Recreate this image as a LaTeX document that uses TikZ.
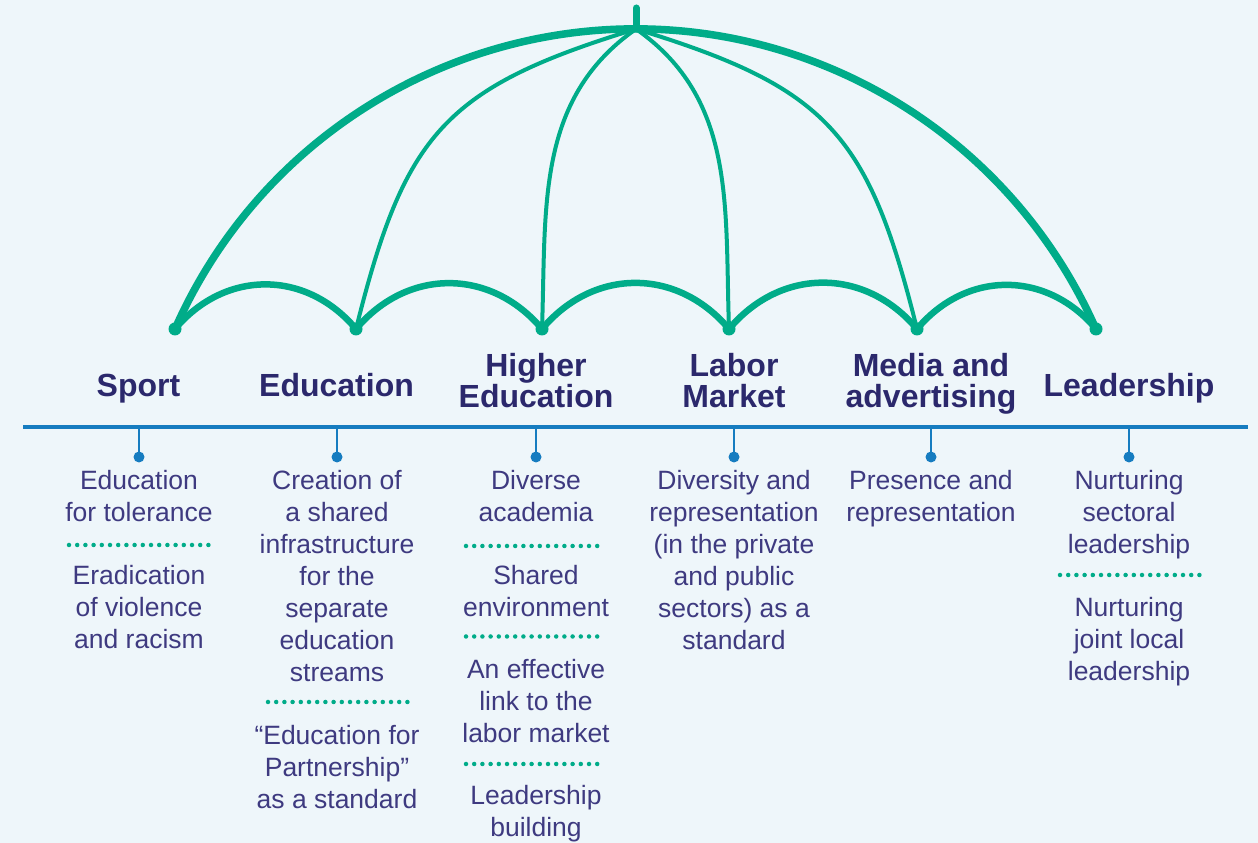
\documentclass[tikz,border=0pt]{standalone}
\usepackage{fontspec}
\setmainfont{Liberation Sans}
\definecolor{bgblue}{RGB}{238,246,250}
\definecolor{umbgreen}{RGB}{0,172,137}
\definecolor{lineblue}{RGB}{22,124,192}
\definecolor{headnavy}{RGB}{43,40,108}
\definecolor{textnavy}{RGB}{62,58,128}
\begin{document}
\begin{tikzpicture}[x=1pt, y=1pt, line cap=round, line join=round,
    heading/.style={font=\fontsize{32}{31.5}\selectfont\bfseries, text=headnavy, align=center, anchor=base, inner sep=0pt},
    item/.style={font=\fontsize{26.5}{32}\selectfont, text=textnavy, align=center, anchor=base, inner sep=0pt},
    canopy/.style={draw=umbgreen, line width=6.5pt},
    rib/.style={draw=umbgreen, line width=4pt},
    ribend/.style={circle, fill=umbgreen, minimum size=13pt, inner sep=0pt},
    stemdot/.style={circle, fill=lineblue, minimum size=11pt, inner sep=0pt},
    tickline/.style={draw=lineblue, line width=2.6pt},
    dotsep/.style={draw=umbgreen, line width=4.5pt, dash pattern=on 0pt off 8.2pt}]
    \path[fill=bgblue, use as bounding box] (0,0) rectangle (1258,843);

    % umbrella
    \coordinate (top) at (636,814);
    \coordinate (handle) at (636,835);
    \node[ribend] (r1) at (175,514) {};
    \node[ribend] (r2) at (356,514) {};
    \node[ribend] (r3) at (542,514) {};
    \node[ribend] (r4) at (729,514) {};
    \node[ribend] (r5) at (917,514) {};
    \node[ribend] (r6) at (1096,514) {};
    \draw[umbgreen, line width=7pt] (handle) -- (top);
    \draw[umbgreen, line width=7.5pt] (r1.center) arc[start angle=156.17, end angle=23.83, radius=503.4];
    \draw[rib] (top) to[out=197, in=76, looseness=1.25] (r2.center);
    \draw[rib] (top) to[out=215, in=88] (r3.center);
    \draw[rib] (top) to[out=-35, in=92] (r4.center);
    \draw[rib] (top) to[out=-17, in=104, looseness=1.25] (r5.center);
    \draw[canopy] (r1.center) to[bend left=50, looseness=1.1] (r2.center)
        to[bend left=50, looseness=1.1] (r3.center)
        to[bend left=50, looseness=1.1] (r4.center)
        to[bend left=50, looseness=1.1] (r5.center)
        to[bend left=50, looseness=1.1] (r6.center);

    % headings (anchored at the last line)
    \node[heading] (sport) at (138.5,446) {Sport};
    \node[heading] (edu) at (336.5,446) {Education};
    \node[heading] (higher) at (536,435) {Higher\\Education};
    \node[heading] (labor) at (734,435) {Labor\\Market};
    \node[heading] (media) at (931,435) {Media and\\advertising};
    \node[heading] (lead) at (1129,446) {Leadership};

    % axis and ticks
    \coordinate (axisL) at (23,416);
    \coordinate (axisR) at (1248,416);
    \draw[lineblue, line width=4pt, line cap=butt] (axisL) -- (axisR);
    \coordinate (sport-t) at (139,416);
    \coordinate (edu-t) at (337,416);
    \coordinate (higher-t) at (536,416);
    \coordinate (labor-t) at (734,416);
    \coordinate (media-t) at (931,416);
    \coordinate (lead-t) at (1129,416);
    \node[stemdot] (sport-d) at (139,386) {};
    \node[stemdot] (edu-d) at (337,386) {};
    \node[stemdot] (higher-d) at (536,386) {};
    \node[stemdot] (labor-d) at (734,386) {};
    \node[stemdot] (media-d) at (931,386) {};
    \node[stemdot] (lead-d) at (1129,386) {};
    \draw[tickline] (sport-t) -- (sport-d.center);
    \draw[tickline] (edu-t) -- (edu-d.center);
    \draw[tickline] (higher-t) -- (higher-d.center);
    \draw[tickline] (labor-t) -- (labor-d.center);
    \draw[tickline] (media-t) -- (media-d.center);
    \draw[tickline] (lead-t) -- (lead-d.center);

    % Sport
    \node[item] (sport-a) at (139,321) {Education\\for tolerance};
    \draw[dotsep] (69,298) -- (209,298);
    \node[item] (sport-b) at (139,194.5) {Eradication\\of violence\\and racism};

    % Education
    \node[item] (edu-a) at (337,161) {Creation of\\a shared\\infrastructure\\for the\\separate\\education\\streams};
    \draw[dotsep] (268,141) -- (408,141);
    \node[item] (edu-b) at (337,34.5) {“Education for\\Partnership”\\as a standard};

    % Higher Education
    \node[item] (higher-a) at (536,321) {Diverse\\academia};
    \draw[dotsep] (466,297) -- (605,297);
    \node[item] (higher-b) at (536,226.5) {Shared\\environment};
    \draw[dotsep] (466,206.5) -- (605,206.5);
    \node[item] (higher-c) at (536,100.5) {An effective\\link to the\\labor market};
    \draw[dotsep] (466,79) -- (605,79);
    \node[item] (higher-d2) at (536,6.5) {Leadership\\building};

    % Labor Market
    \node[item] (labor-a) at (734,193) {Diversity and\\representation\\(in the private\\and public\\sectors) as a\\standard};

    % Media and advertising
    \node[item] (media-a) at (931,321) {Presence and\\representation};

    % Leadership
    \node[item] (lead-a) at (1129,289) {Nurturing\\sectoral\\leadership};
    \draw[dotsep] (1060,268) -- (1200,268);
    \node[item] (lead-b) at (1129,162.5) {Nurturing\\joint local\\leadership};
\end{tikzpicture}
\end{document}
